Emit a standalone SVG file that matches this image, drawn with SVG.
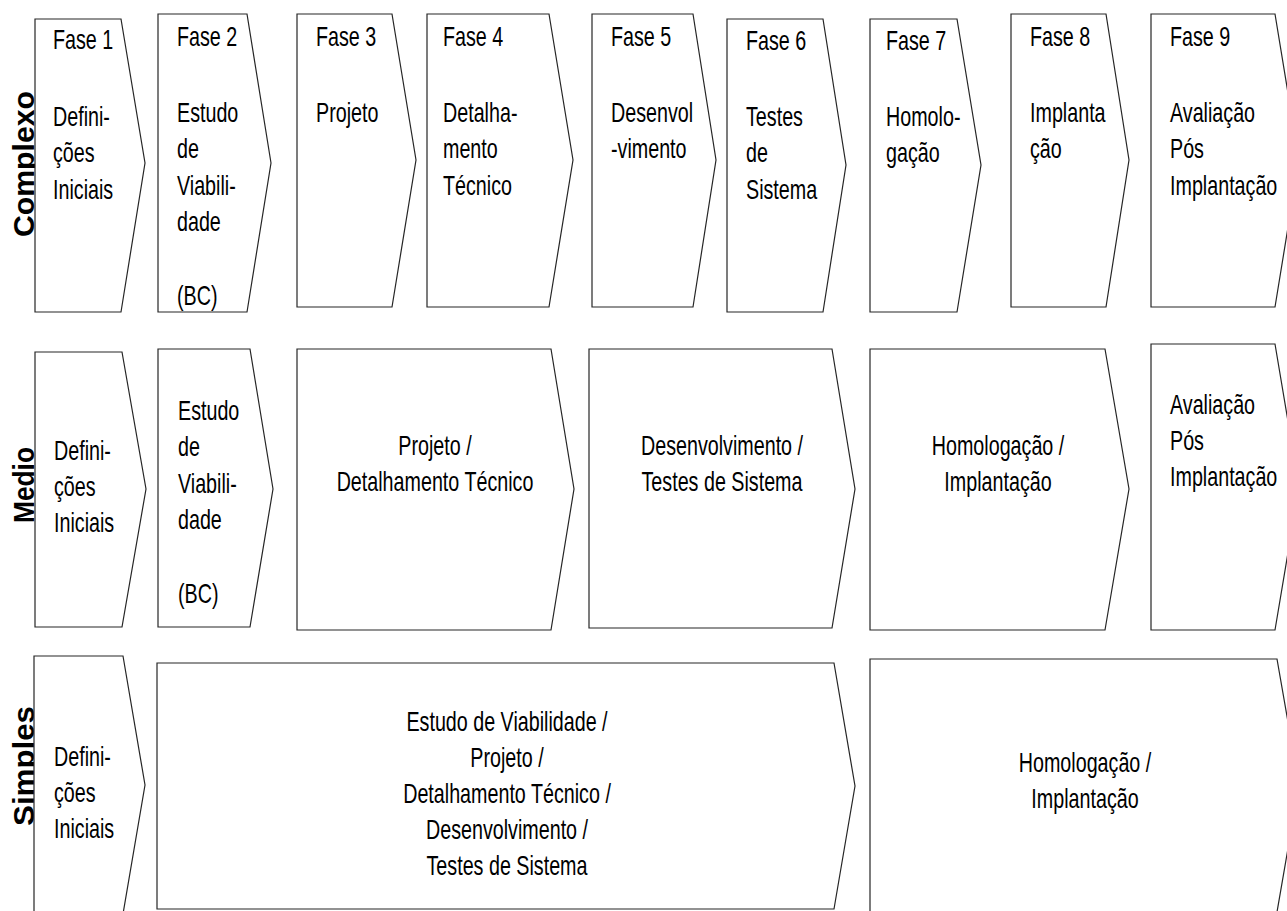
<svg xmlns="http://www.w3.org/2000/svg" width="1287" height="911" viewBox="0 0 1287 911">
  <style>
    .step { fill: #ffffff; stroke: #262626; stroke-width: 1.2; stroke-linejoin: miter; }
    .t { font-family: "Liberation Sans", Arial, sans-serif; font-size: 27px; fill: #000000; }
    .mid { text-anchor: middle; }
    .row { font-family: "Liberation Sans", Arial, sans-serif; font-size: 30px; font-weight: bold; fill: #000000; text-anchor: middle; }
  </style>
  <rect x="0" y="0" width="1287" height="911" fill="#ffffff"/>

  <!-- Row labels -->
  <g id="row-labels">
    <text class="row" transform="translate(34,164) rotate(-90)" textLength="146" lengthAdjust="spacingAndGlyphs">Complexo</text>
    <text class="row" transform="translate(34,485) rotate(-90)" textLength="76" lengthAdjust="spacingAndGlyphs">Medio</text>
    <text class="row" transform="translate(34,766) rotate(-90)" textLength="120" lengthAdjust="spacingAndGlyphs">Simples</text>
  </g>

  <!-- Complexo: nine phases -->
  <g id="complexo-fase1">
    <polygon class="step" points="35,19 121,19 145,163 121,312 35,312"/>
    <text class="t" transform="translate(53,49) scale(0.73,1)">Fase 1<tspan x="0" dy="77">Defini-</tspan><tspan x="0" dy="36.5">ções</tspan><tspan x="0" dy="36.5">Iniciais</tspan></text>
  </g>
  <g id="complexo-fase2">
    <polygon class="step" points="158,14 247,14 271,163 247,312 158,312"/>
    <text class="t" transform="translate(177,46) scale(0.73,1)">Fase 2<tspan x="0" dy="76">Estudo</tspan><tspan x="0" dy="36.5">de</tspan><tspan x="0" dy="36.5">Viabili-</tspan><tspan x="0" dy="36.5">dade</tspan><tspan x="0" dy="74">(BC)</tspan></text>
  </g>
  <g id="complexo-fase3">
    <polygon class="step" points="297,14 392,14 416,160 392,307 297,307"/>
    <text class="t" transform="translate(316,46) scale(0.73,1)">Fase 3<tspan x="0" dy="76">Projeto</tspan></text>
  </g>
  <g id="complexo-fase4">
    <polygon class="step" points="427,14 549,14 573,160 549,307 427,307"/>
    <text class="t" transform="translate(443,46) scale(0.73,1)">Fase 4<tspan x="0" dy="76">Detalha-</tspan><tspan x="0" dy="36.5">mento</tspan><tspan x="0" dy="36.5">Técnico</tspan></text>
  </g>
  <g id="complexo-fase5">
    <polygon class="step" points="592,14 693,14 716,160 693,307 592,307"/>
    <text class="t" transform="translate(611,46) scale(0.73,1)">Fase 5<tspan x="0" dy="76">Desenvol</tspan><tspan x="0" dy="36.5">-vimento</tspan></text>
  </g>
  <g id="complexo-fase6">
    <polygon class="step" points="727,19 823,19 846,165 823,312 727,312"/>
    <text class="t" transform="translate(746,50) scale(0.73,1)">Fase 6<tspan x="0" dy="76">Testes</tspan><tspan x="0" dy="36.5">de</tspan><tspan x="0" dy="36.5">Sistema</tspan></text>
  </g>
  <g id="complexo-fase7">
    <polygon class="step" points="870,19 957,19 981,165 957,312 870,312"/>
    <text class="t" transform="translate(886,50) scale(0.73,1)">Fase 7<tspan x="0" dy="76">Homolo-</tspan><tspan x="0" dy="36.5">gação</tspan></text>
  </g>
  <g id="complexo-fase8">
    <polygon class="step" points="1011,14 1106,14 1129,160 1106,307 1011,307"/>
    <text class="t" transform="translate(1030,46) scale(0.73,1)">Fase 8<tspan x="0" dy="76">Implanta</tspan><tspan x="0" dy="36.5">ção</tspan></text>
  </g>
  <g id="complexo-fase9">
    <polygon class="step" points="1151,14 1275,14 1299,160 1275,307 1151,307"/>
    <text class="t" transform="translate(1170,46) scale(0.73,1)">Fase 9<tspan x="0" dy="76">Avaliação</tspan><tspan x="0" dy="36.5">Pós</tspan><tspan x="0" dy="36.5">Implantação</tspan></text>
  </g>

  <!-- Medio: six steps -->
  <g id="medio-definicoes">
    <polygon class="step" points="35,352 122,352 146,489 122,627 35,627"/>
    <text class="t" transform="translate(54,460) scale(0.73,1)">Defini-<tspan x="0" dy="36">ções</tspan><tspan x="0" dy="36">Iniciais</tspan></text>
  </g>
  <g id="medio-viabilidade">
    <polygon class="step" points="158,349 250,349 273,489 250,627 158,627"/>
    <text class="t" transform="translate(178,420) scale(0.73,1)">Estudo<tspan x="0" dy="36.5">de</tspan><tspan x="0" dy="36.5">Viabili-</tspan><tspan x="0" dy="36.5">dade</tspan><tspan x="0" dy="74">(BC)</tspan></text>
  </g>
  <g id="medio-projeto">
    <polygon class="step" points="297,349 551,349 574,489 551,630 297,630"/>
    <text class="t mid" transform="translate(435,455) scale(0.73,1)">Projeto /<tspan x="0" dy="36">Detalhamento Técnico</tspan></text>
  </g>
  <g id="medio-desenvolvimento">
    <polygon class="step" points="589,349 832,349 855,489 832,628 589,628"/>
    <text class="t mid" transform="translate(722,455) scale(0.73,1)">Desenvolvimento /<tspan x="0" dy="36">Testes de Sistema</tspan></text>
  </g>
  <g id="medio-homologacao">
    <polygon class="step" points="870,349 1105,349 1129,489 1105,630 870,630"/>
    <text class="t mid" transform="translate(998,455) scale(0.73,1)">Homologação /<tspan x="0" dy="36">Implantação</tspan></text>
  </g>
  <g id="medio-avaliacao">
    <polygon class="step" points="1151,344 1275,344 1299,487 1275,630 1151,630"/>
    <text class="t" transform="translate(1170,414) scale(0.73,1)">Avaliação<tspan x="0" dy="36">Pós</tspan><tspan x="0" dy="36">Implantação</tspan></text>
  </g>

  <!-- Simples: three steps -->
  <g id="simples-definicoes">
    <polygon class="step" points="34,656 123,656 145,785 123,914 34,914"/>
    <text class="t" transform="translate(54,766) scale(0.73,1)">Defini-<tspan x="0" dy="36">ções</tspan><tspan x="0" dy="36">Iniciais</tspan></text>
  </g>
  <g id="simples-execucao">
    <polygon class="step" points="157,663 834,663 855,786 834,909 157,909"/>
    <text class="t mid" transform="translate(507,731) scale(0.73,1)">Estudo de Viabilidade /<tspan x="0" dy="36">Projeto /</tspan><tspan x="0" dy="36">Detalhamento Técnico /</tspan><tspan x="0" dy="36">Desenvolvimento /</tspan><tspan x="0" dy="36">Testes de Sistema</tspan></text>
  </g>
  <g id="simples-homologacao">
    <polygon class="step" points="870,659 1277,659 1299,785 1277,912 870,912"/>
    <text class="t mid" transform="translate(1085,772) scale(0.73,1)">Homologação /<tspan x="0" dy="36">Implantação</tspan></text>
  </g>
</svg>
